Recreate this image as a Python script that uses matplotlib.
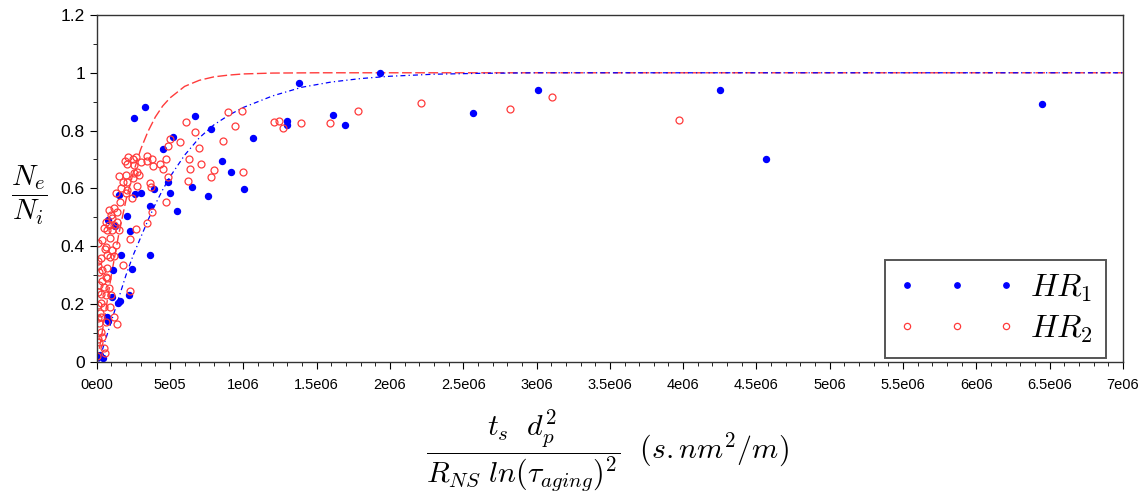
import numpy as np
import matplotlib
matplotlib.use("Agg")
import matplotlib.pyplot as plt

plt.rcParams['mathtext.fontset'] = 'cm'
plt.rcParams['font.family'] = ['Liberation Sans', 'DejaVu Sans']

# HR1 measurements (filled blue dots)
hr1_x = [2.57e5, 3.27e5, 6.68e5, 1.38e6, 1.93e6, 7.79e5, 1.295e6, 1.295e6, 1.613e6, 1.695e6,
         1.063e6, 5.18e5, 4.55e5, 8.52e5, 9.13e5, 4.86e5, 6.47e5, 3.9e5, 1.007e6, 3.0e5,
         2.63e5, 1.5e5, 5.0e5, 7.57e5, 3.65e5, 5.45e5, 2.05e5, 0.78e5, 1.22e5, 2.25e5,
         3.65e5, 1.65e5, 1.1e5, 2.4e5, 1.04e5, 2.19e5, 1.48e5, 1.62e5, 0.72e5, 0.77e5,
         0.45e5, 0.23e5, 0.1e5, 2.57e6, 3.013e6, 4.25e6, 4.565e6, 6.45e6]
hr1_y = [0.843, 0.880, 0.850, 0.966, 1.0, 0.807, 0.832, 0.818, 0.854, 0.818,
         0.774, 0.776, 0.736, 0.695, 0.657, 0.622, 0.604, 0.598, 0.598, 0.585,
         0.579, 0.578, 0.583, 0.574, 0.540, 0.523, 0.505, 0.490, 0.470, 0.454,
         0.371, 0.368, 0.316, 0.320, 0.224, 0.230, 0.202, 0.210, 0.156, 0.141,
         0.012, 0.022, 0.015, 0.862, 0.942, 0.942, 0.702, 0.892]

# HR2 measurements (open red circles)
hr2_x = [2.21e6, 1.779e6, 1.59e6, 1.395e6, 2.82e6, 3.106e6, 3.975e6, 1.209e6, 1.243e6, 1.272e6,
         8.97e5, 9.9e5, 6.12e5, 6.71e5, 9.45e5, 8.63e5, 5.65e5, 7.0e5, 6.31e5, 7.13e5,
         6.38e5, 8.02e5, 7.81e5, 9.99e5, 5.02e5, 4.88e5, 3.78e5, 4.75e5, 3.82e5, 4.3e5,
         4.54e5, 4.88e5, 6.24e5, 3.63e5, 3.68e5, 4.74e5, 3.75e5, 3.4e5, 2.66e5, 2.3e5,
         2.3e5, 1.79e5,
         2.16e5, 1.95e5, 2.09e5, 2.5e5, 2.68e5, 2.54e5, 3.4e5, 3.45e5, 3.0e5, 2.77e5,
         2.88e5, 2.54e5, 2.5e5, 1.52e5, 1.98e5, 1.79e5, 2.09e5, 2.77e5, 1.64e5, 2.09e5,
         1.98e5, 1.59e5, 2.4e5, 1.3e5, 0.84e5, 1.18e5, 1.4e5, 0.95e5, 1.06e5, 0.61e5,
         0.84e5, 1.18e5, 1.4e5, 0.5e5, 0.72e5, 1.06e5, 1.52e5, 0.91e5, 0.38e5, 1.3e5,
         0.61e5,
         0.55e5, 1.06e5, 0.31e5, 0.72e5, 0.91e5, 1.18e5, 0.38e5, 0.72e5, 0.61e5, 0.38e5,
         0.72e5, 0.5e5, 0.84e5, 0.31e5, 0.61e5, 0.95e5, 0.27e5, 0.5e5, 0.89e5, 0.22e5,
         0.31e5, 1.18e5, 0.61e5, 1.4e5, 0.27e5, 0.38e5, 0.16e5, 0.5e5, 0.55e5,
         0.16e5, 0.16e5, 0.12e5, 0.14e5, 0.1e5, 0.1e5, 0.1e5, 0.08e5, 0.08e5, 0.06e5, 0.05e5]
hr2_y = [0.894, 0.868, 0.826, 0.826, 0.874, 0.916, 0.835, 0.830, 0.834, 0.809,
         0.864, 0.868, 0.830, 0.796, 0.817, 0.765, 0.762, 0.740, 0.703, 0.686,
         0.668, 0.664, 0.640, 0.658, 0.770, 0.748, 0.702, 0.703, 0.677, 0.684,
         0.666, 0.641, 0.627, 0.620, 0.604, 0.554, 0.519, 0.480, 0.458, 0.424,
         0.245, 0.334,
         0.707, 0.696, 0.684, 0.700, 0.707, 0.681, 0.712, 0.695, 0.692, 0.655,
         0.645, 0.652, 0.637, 0.644, 0.646, 0.623, 0.623, 0.608, 0.600, 0.594,
         0.583, 0.554, 0.567, 0.585, 0.525, 0.531, 0.519, 0.508, 0.496, 0.484,
         0.473, 0.473, 0.484, 0.462, 0.456, 0.456, 0.456, 0.427, 0.421, 0.404,
         0.398,
         0.390, 0.386, 0.358, 0.369, 0.363, 0.367, 0.317, 0.323, 0.294, 0.279,
         0.289, 0.260, 0.256, 0.233, 0.231, 0.231, 0.202, 0.190, 0.188, 0.167,
         0.156, 0.156, 0.138, 0.129, 0.102, 0.087, 0.069, 0.046, 0.029,
         0.311, 0.265, 0.196, 0.133, 0.350, 0.410, 0.330, 0.240, 0.150, 0.080, 0.020]

# fitted curves
fit1_x = [1.5e4, 5e4, 1e5, 1.5e5, 2e5, 2.5e5, 3e5, 3.5e5, 4e5, 4.5e5, 5e5, 6e5, 7e5, 8e5,
          9e5, 1e6, 1.2e6, 1.4e6, 1.6e6, 1.8e6, 2e6, 2.3e6, 2.6e6, 3e6, 7e6]
fit1_y = [0.0, 0.06, 0.14, 0.22, 0.30, 0.37, 0.43, 0.49, 0.545, 0.595, 0.64, 0.715, 0.775, 0.82,
          0.853, 0.88, 0.92, 0.95, 0.968, 0.98, 0.988, 0.995, 0.998, 1.0, 1.0]
fit2_x = [0, 2e4, 5e4, 1e5, 1.5e5, 2e5, 2.5e5, 3e5, 3.5e5, 4e5, 4.5e5, 5e5, 6e5, 7e5, 8e5,
          9e5, 1e6, 1.2e6, 1.5e6, 7e6]
fit2_y = [0, 0.05, 0.14, 0.30, 0.44, 0.56, 0.655, 0.735, 0.797, 0.847, 0.885, 0.913, 0.953, 0.974,
          0.986, 0.992, 0.996, 0.999, 1.0, 1.0]

x_ticks = [0, 5e5, 1e6, 1.5e6, 2e6, 2.5e6, 3e6, 3.5e6, 4e6, 4.5e6, 5e6, 5.5e6, 6e6, 6.5e6, 7e6]
x_ticklabels = ['0e00', '5e05', '1e06', '1.5e06', '2e06', '2.5e06', '3e06', '3.5e06',
                '4e06', '4.5e06', '5e06', '5.5e06', '6e06', '6.5e06', '7e06']
y_ticks = [0, 0.2, 0.4, 0.6, 0.8, 1.0, 1.2]
y_ticklabels = ['0', '0.2', '0.4', '0.6', '0.8', '1', '1.2']

blue = '#0000ff'
red = '#ff3b3b'

fig = plt.figure(figsize=(11.43, 4.95), dpi=100)
ax = fig.add_axes([0.0846, 0.2693, 0.8979, 0.7004])

ax.plot(fit2_x, fit2_y, color=red, lw=1.0, ls=(0, (7, 2.5)))
ax.plot(fit1_x, fit1_y, color=blue, lw=0.9, ls=(0, (4, 2.5, 1, 2.5)))

ax.plot(hr1_x, hr1_y, ls='none', marker='o', ms=4.3, color=blue, mec=blue,
        label=r'$HR_1$')
ax.plot(hr2_x, hr2_y, ls='none', marker='o', ms=5.0, mfc='none', mec=red, mew=0.9,
        label=r'$HR_2$')

ax.set_xlim(0, 7e6)
ax.set_ylim(0, 1.2)
ax.set_xticks(x_ticks)
ax.set_xticklabels(x_ticklabels, fontsize=10.5)
ax.set_yticks(y_ticks)
ax.set_yticklabels(y_ticklabels, fontsize=12.5)
ax.set_xticks(np.arange(0, 7.01e6, 1e5), minor=True)
ax.set_yticks(np.arange(0, 1.21, 0.1), minor=True)
ax.tick_params(which='major', direction='out', length=5, width=0.8)
ax.tick_params(axis='x', which='major', pad=7)
ax.tick_params(which='minor', direction='out', length=3, width=0.6)
for s in ax.spines.values():
    s.set_color('#333333')
    s.set_linewidth(1.0)

leg = ax.legend(loc='lower right', bbox_to_anchor=(0.983, 0.011), borderaxespad=0,
                numpoints=3, handlelength=3.7, fontsize=23, fancybox=False,
                edgecolor='#555555', framealpha=1, labelspacing=0.3,
                borderpad=0.4, handletextpad=0.45, markerscale=0.9)
leg.get_frame().set_linewidth(1.4)

fig.text(0.026, 0.605, r'$\dfrac{N_e}{N_i}$', fontsize=21, ha='center', va='center')
fig.text(0.531, 0.09,
         r'$\dfrac{t_s\ \ d_p^2}{R_{NS}\ ln(\tau_{aging})^2}\ \ (s.nm^2/m)$',
         fontsize=21.5, ha='center', va='center')

fig.savefig('out.png', dpi=100)
